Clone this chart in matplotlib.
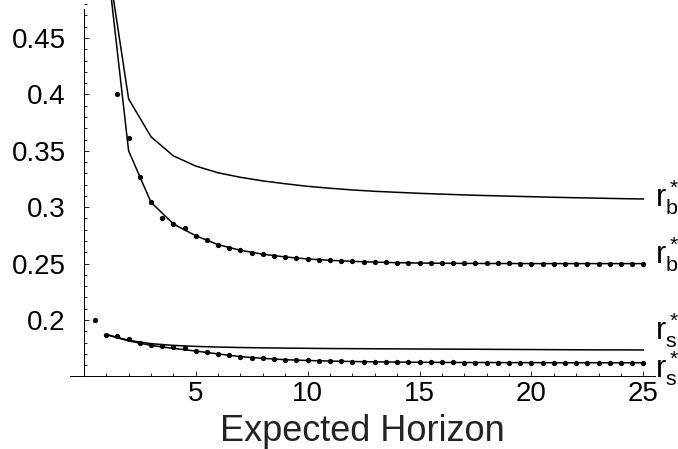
## Optimal reservation prices vs expected horizon
# solid lines = approximation, dots = exact values

import matplotlib.pyplot as plt
from matplotlib.ticker import MultipleLocator

plt.rcParams['font.family'] = ['Liberation Sans', 'DejaVu Sans']
plt.rcParams['mathtext.fontset'] = 'custom'
plt.rcParams['mathtext.rm'] = 'Liberation Sans'
plt.rcParams['mathtext.it'] = 'Liberation Sans'


## data

horizon = list(range(1, 26))
horizon_half = [i / 2 for i in range(1, 51)]

rb_upper = [0.527, 0.396, 0.3625, 0.3455, 0.3365, 0.3305, 0.3265, 0.3233, 0.3208, 0.3185,
            0.3168, 0.3153, 0.3141, 0.3132, 0.3123, 0.3116, 0.3109, 0.3103, 0.3098, 0.3093,
            0.3088, 0.3084, 0.3080, 0.3076, 0.3073]

rb_lower = [0.525, 0.350, 0.3044, 0.2851, 0.2747, 0.2668, 0.2618, 0.2583, 0.2559, 0.2541,
            0.2529, 0.2520, 0.2513, 0.2508, 0.2505, 0.2503, 0.2502, 0.2501, 0.2501, 0.2500,
            0.2500, 0.2500, 0.2500, 0.2500, 0.2500]

rs_upper = [0.1872, 0.1820, 0.1790, 0.1775, 0.1766, 0.1760, 0.1756, 0.1753, 0.1751, 0.1749,
            0.1747, 0.1746, 0.1745, 0.1744, 0.1743, 0.1742, 0.1741, 0.1740, 0.1739, 0.1738,
            0.1737, 0.1736, 0.1735, 0.1735, 0.1734]

rs_lower = [0.1870, 0.1815, 0.1775, 0.1748, 0.1725, 0.1699, 0.1675, 0.1660, 0.1648, 0.1641,
            0.1636, 0.1632, 0.1629, 0.1627, 0.1625, 0.1624, 0.1623, 0.1623, 0.1622, 0.1622,
            0.1621, 0.1621, 0.1621, 0.1621, 0.1621]

# dots for r_b start at 1.5 (the first ones are above the plot)
rb_dots = [0.400, 0.361, 0.3265, 0.3044, 0.2907, 0.2851, 0.2815, 0.2747, 0.2706, 0.2668,
           0.2640, 0.2618, 0.2598, 0.2583, 0.2570, 0.2559, 0.2550, 0.2541, 0.2535, 0.2529,
           0.2524, 0.2520, 0.2516, 0.2513, 0.2511, 0.2508, 0.2506, 0.2505, 0.2504, 0.2503,
           0.2503, 0.2502, 0.2502, 0.2501, 0.2501, 0.2501, 0.2500, 0.2500, 0.2500, 0.2500,
           0.2500, 0.2500, 0.2500, 0.2500, 0.2500, 0.2500, 0.2500, 0.2500]

rs_dots = [0.2003, 0.1867, 0.1858, 0.1829, 0.1799, 0.1778, 0.1772, 0.1763, 0.1754, 0.1725,
           0.1714, 0.1699, 0.1690, 0.1675, 0.1666, 0.1660, 0.1654, 0.1648, 0.1645, 0.1641,
           0.1638, 0.1636, 0.1634, 0.1632, 0.1630, 0.1629, 0.1628, 0.1627, 0.1626, 0.1625,
           0.1625, 0.1624, 0.1624, 0.1623, 0.1623, 0.1623, 0.1622, 0.1622, 0.1622, 0.1622,
           0.1622, 0.1621, 0.1621, 0.1621, 0.1621, 0.1621, 0.1621, 0.1621, 0.1621, 0.1621]

labels = [r'$\mathregular{r^*_b}$', r'$\mathregular{r^*_b}$', r'$\mathregular{r^*_s}$', r'$\mathregular{r^*_s}$']
label_y = [0.3002, 0.2505, 0.1828, 0.1490]


## plot

fig = plt.figure(figsize=(6.78, 4.49), dpi=100)
ax = fig.add_axes([0.1032, 0.1617, 0.8628, 0.8383])

ax.plot(horizon, rb_upper, color='black', lw=1.1)
ax.plot(horizon, rb_lower, color='black', lw=1.1)
ax.plot(horizon, rs_upper, color='black', lw=1.1)
ax.plot(horizon, rs_lower, color='black', lw=1.1)
ax.plot(horizon_half[2:], rb_dots, 'o', color='black', ms=3.8, mew=0)
ax.plot(horizon_half, rs_dots, 'o', color='black', ms=3.8, mew=0)

for lab, y in zip(labels, label_y):
    ax.text(25.5, y, lab, fontsize=22, ha='left', va='baseline', clip_on=False)

ax.set_xlim(-0.62, 25.52)
ax.set_ylim(0.15, 0.4837)

# mathematica style axes
ax.spines['top'].set_visible(False)
ax.spines['right'].set_visible(False)
ax.spines['left'].set_position(('data', 0))
ax.spines['left'].set_bounds(0.1512, 0.476)
ax.spines['left'].set_linewidth(0.7)
ax.spines['bottom'].set_linewidth(0.7)

ax.xaxis.set_major_locator(MultipleLocator(5))
ax.xaxis.set_minor_locator(MultipleLocator(1))
ax.set_yticks([0.2, 0.25, 0.3, 0.35, 0.4, 0.45])
ax.set_yticklabels(['0.2', '0.25', '0.3', '0.35', '0.4', '0.45'])
ax.yaxis.set_minor_locator(MultipleLocator(0.01))
ax.set_xticks([5, 10, 15, 20, 25])
ax.set_xticklabels(['5', '10', '15', '20', '25'])

ax.tick_params(which='both', direction='in', width=0.6, labelsize=20)
ax.tick_params(which='major', length=3.8)
ax.tick_params(which='minor', length=2.2)
ax.tick_params(axis='x', pad=3)
ax.tick_params(axis='y', pad=13)

ax.set_xlabel('Expected Horizon', fontsize=26, color='#222222', labelpad=5)

plt.savefig('out.png', dpi=100)
